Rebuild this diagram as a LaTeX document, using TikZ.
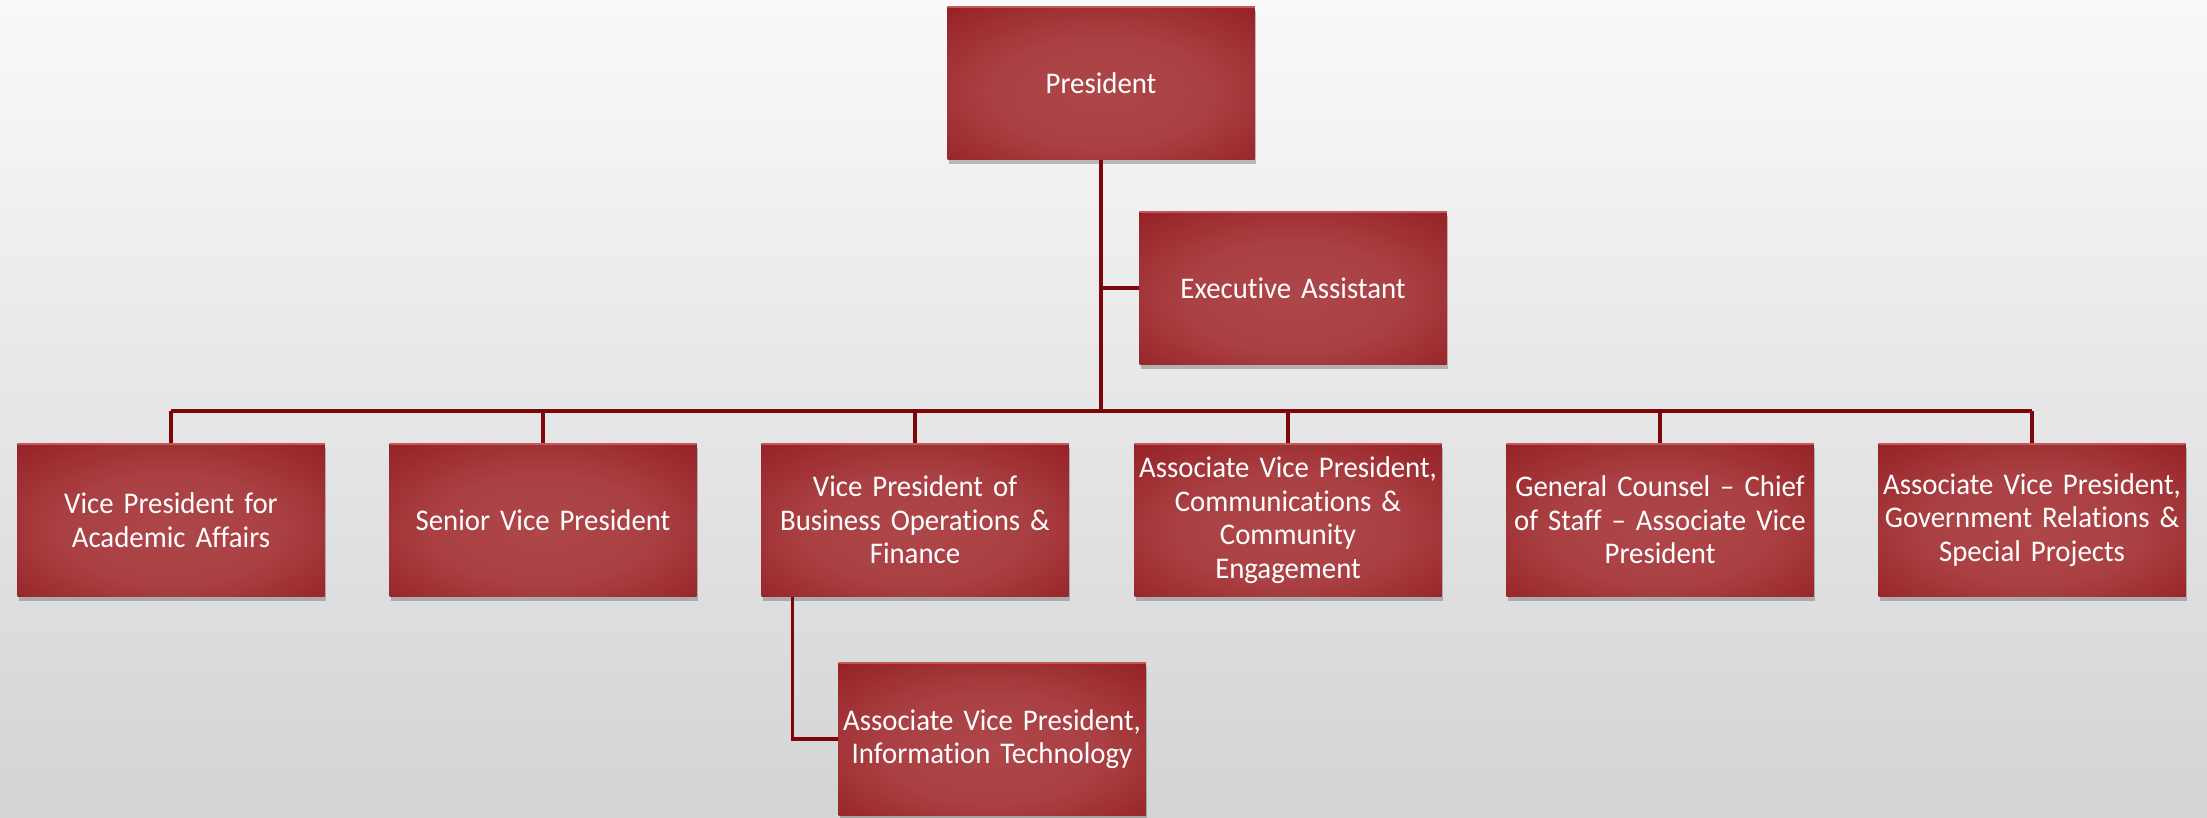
\documentclass[tikz,border=0pt]{standalone}
\usepackage{fontspec}
\setmainfont{Carlito}[FakeStretch=0.96, WordSpace=0.75, Ligatures=NoCommon]
\usetikzlibrary{shadows}
\definecolor{bgtop}{HTML}{F9F9F9}
\definecolor{bgbot}{HTML}{D3D4D6}
\definecolor{boxin}{HTML}{AE474A}
\definecolor{boxout}{HTML}{880C10}
\definecolor{linecol}{HTML}{7E0508}
\definecolor{bevel}{HTML}{C2585B}
\pgfdeclareradialshading{boxshade}{\pgfpoint{0bp}{-4bp}}{color(0bp)=(boxin); color(18bp)=(boxin!88!boxout); color(50bp)=(boxout); color(75bp)=(boxout)}
\tikzset{
  orgbox/.style={rectangle, minimum width=307pt, minimum height=153pt,
    text width=307pt, align=center, inner sep=0pt, text=white,
    font=\fontsize{30}{33.5}\selectfont,
    shading=boxshade,
    drop shadow={shadow xshift=1pt, shadow yshift=-4pt, opacity=0.35, fill=black!70},
    path picture={\draw[bevel, line width=2.5pt]
      (path picture bounding box.north west) -- (path picture bounding box.north east);}},
  link/.style={draw=linecol, line width=3.2pt}
}
\begin{document}
\begin{tikzpicture}[x=1pt,y=1pt]
\useasboundingbox (0,0) rectangle (2207,-817);
\shade[top color=bgtop, bottom color=bgbot] (0,0) rectangle (2207,-817);

\coordinate (bus) at (0,-411);

\node[orgbox] (pres) at (1101,-83) {President};
\node[orgbox] (exec) at (1293,-288) {Executive Assistant};
\node[orgbox] (vpaa) at (171,-520) {Vice President for\\Academic Affairs};
\node[orgbox] (svp) at (543,-520) {Senior Vice President};
\node[orgbox] (vpbof) at (915,-520) {Vice President of\\Business Operations \&\\Finance};
\node[orgbox] (avpcce) at (1288,-520) {Associate Vice President,\\Communications \&\\Community\\Engagement};
\node[orgbox] (gc) at (1660,-520) {General Counsel -- Chief\\of Staff -- Associate Vice\\President};
\node[orgbox] (avpgr) at (2032,-520) {Associate Vice President,\\Government Relations \&\\Special Projects};
\node[orgbox] (avpit) at (992,-739) {Associate Vice President,\\Information Technology};

\draw[link] (pres.south) -- (pres.south |- bus);
\draw[link] (pres.south |- exec.west) -- (exec.west);
\draw[link] (vpaa.north |- bus) -- (avpgr.north |- bus);
\foreach \n in {vpaa,svp,vpbof,avpcce,gc,avpgr}
  \draw[link] (\n.north |- bus) -- (\n.north);
\draw[link] ([xshift=31pt]vpbof.south west) |- (avpit.west);
\end{tikzpicture}
\end{document}
